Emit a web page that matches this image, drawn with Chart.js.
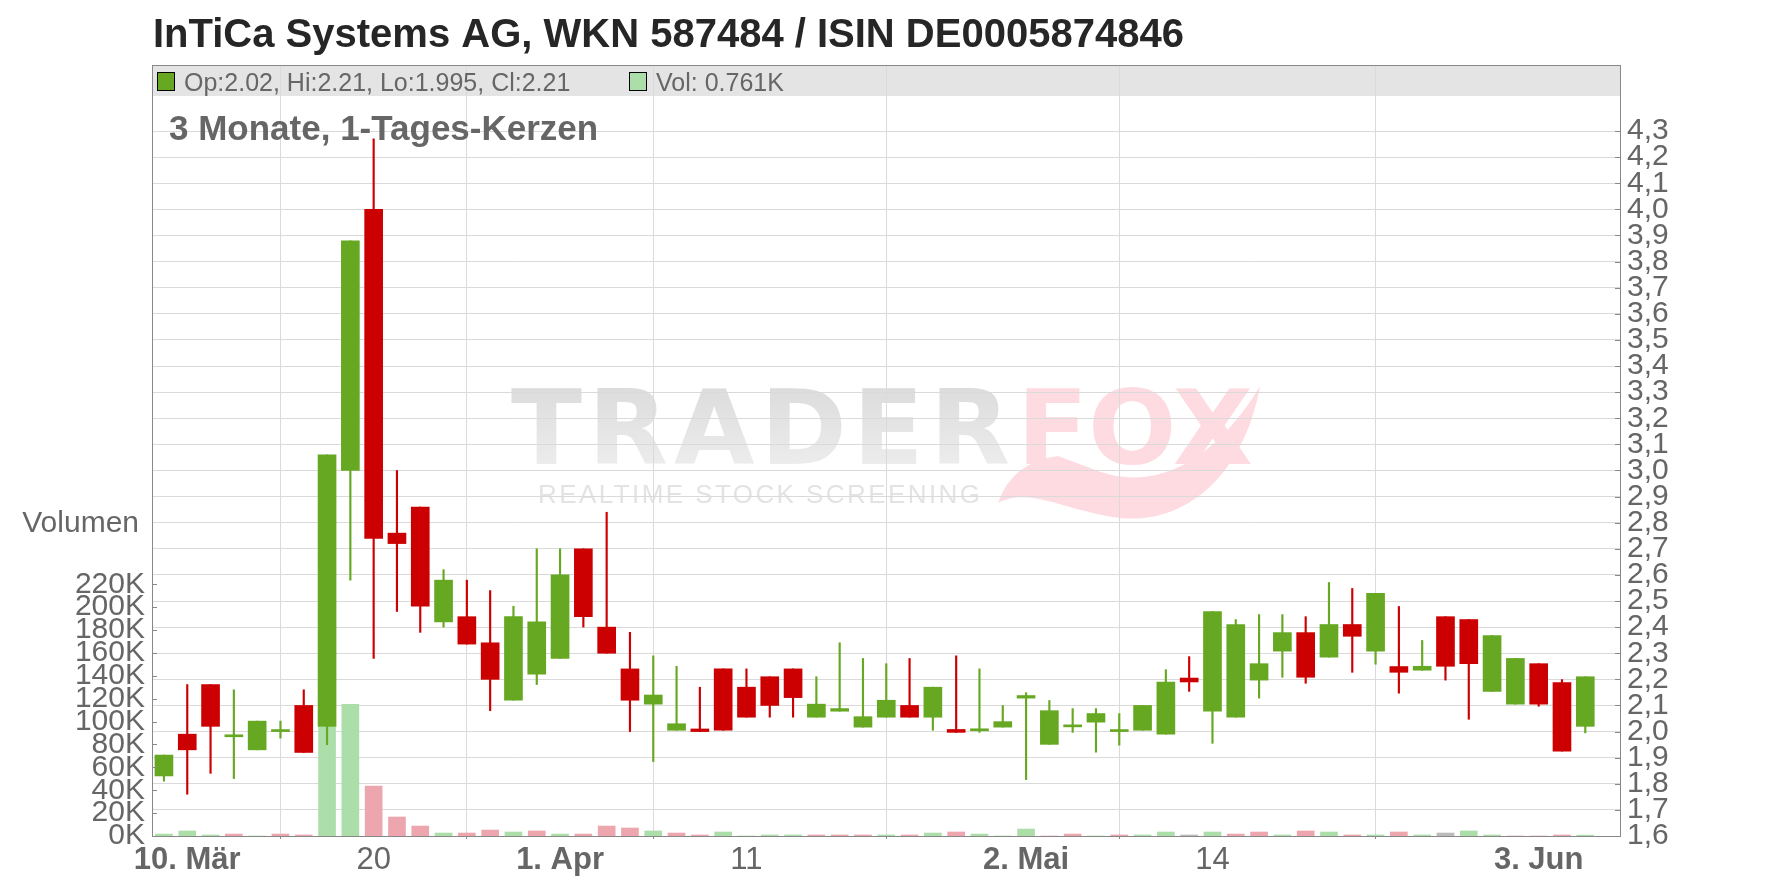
<!DOCTYPE html>
<html lang="de">
<head>
<meta charset="utf-8">
<title>InTiCa Systems AG - 3 Monate</title>
<script src="https://cdn.jsdelivr.net/npm/chart.js@4.4.1/dist/chart.umd.min.js"></script>
<style>
  html, body { margin: 0; padding: 0; background: #fff; }
  #wrap { width: 1776px; height: 888px; }
</style>
</head>
<body>
<div id="wrap"><canvas id="kurs" width="1776" height="888"></canvas></div>
<script>
// Handelstage 7. Maerz bis 5. Juni, 1-Tages-Kerzen
const days = [
  '07.03.', '10.03.', '11.03.', '12.03.', '13.03.', '14.03.', '17.03.', '18.03.', '19.03.', '20.03.',
  '21.03.', '24.03.', '25.03.', '26.03.', '27.03.', '28.03.', '31.03.', '01.04.', '02.04.', '03.04.',
  '04.04.', '07.04.', '08.04.', '09.04.', '10.04.', '11.04.', '14.04.', '15.04.', '16.04.', '17.04.',
  '22.04.', '23.04.', '24.04.', '25.04.', '28.04.', '29.04.', '30.04.', '02.05.', '05.05.', '06.05.',
  '07.05.', '08.05.', '09.05.', '12.05.', '13.05.', '14.05.', '15.05.', '16.05.', '19.05.', '20.05.',
  '21.05.', '22.05.', '23.05.', '26.05.', '27.05.', '28.05.', '29.05.', '30.05.', '02.06.', '03.06.',
  '04.06.', '05.06.'
];
const opens = [
  1.83, 1.99, 2.18, 1.98, 1.93, 2.00, 2.10, 2.02, 3.00, 4.00,
  2.76, 2.86, 2.42, 2.44, 2.34, 2.12, 2.22, 2.28, 2.70, 2.40,
  2.24, 2.105, 2.005, 2.01, 2.24, 2.17, 2.21, 2.24, 2.055, 2.078,
  2.017, 2.055, 2.10, 2.055, 2.008, 2.003, 2.017, 2.128, 1.951, 2.018,
  2.036, 2.00, 2.005, 1.99, 2.205, 2.078, 2.055, 2.197, 2.308, 2.379,
  2.285, 2.41, 2.308, 2.249, 2.235, 2.44, 2.429, 2.154, 2.105, 2.26,
  2.188, 2.02
];
const highs = [
  1.91, 2.18, 2.18, 2.16, 2.04, 2.04, 2.16, 3.06, 3.88, 4.27,
  3.00, 2.86, 2.62, 2.58, 2.54, 2.48, 2.70, 2.70, 2.70, 2.84,
  2.38, 2.29, 2.25, 2.17, 2.24, 2.24, 2.21, 2.24, 2.21, 2.34,
  2.28, 2.26, 2.28, 2.17, 2.29, 2.24, 2.10, 2.149, 2.119, 2.088,
  2.088, 2.069, 2.10, 2.237, 2.287, 2.46, 2.429, 2.448, 2.448, 2.44,
  2.571, 2.548, 2.529, 2.479, 2.349, 2.44, 2.429, 2.368, 2.28, 2.26,
  2.199, 2.21
];
const lows = [
  1.81, 1.76, 1.84, 1.82, 1.93, 1.975, 1.92, 1.95, 2.58, 2.28,
  2.46, 2.38, 2.40, 2.335, 2.08, 2.12, 2.18, 2.28, 2.40, 2.30,
  2.00, 1.885, 2.005, 2.00, 2.005, 2.055, 2.055, 2.055, 2.055, 2.078,
  2.017, 2.055, 2.055, 2.005, 1.997, 1.997, 2.017, 1.816, 1.951, 1.997,
  1.921, 1.948, 2.005, 1.99, 2.154, 1.955, 2.055, 2.128, 2.208, 2.185,
  2.285, 2.227, 2.258, 2.147, 2.235, 2.197, 2.047, 2.154, 2.105, 2.097,
  1.925, 1.995
];
const closes = [
  1.91, 1.93, 2.02, 1.98, 2.04, 2.00, 1.92, 3.06, 3.88, 2.74,
  2.72, 2.48, 2.58, 2.335, 2.20, 2.44, 2.42, 2.60, 2.44, 2.30,
  2.12, 2.14, 2.03, 2.00, 2.005, 2.055, 2.10, 2.13, 2.105, 2.088,
  2.057, 2.12, 2.055, 2.17, 1.997, 2.007, 2.038, 2.138, 2.080, 2.018,
  2.069, 2.00, 2.10, 2.19, 2.19, 2.46, 2.41, 2.26, 2.379, 2.208,
  2.41, 2.365, 2.529, 2.227, 2.25, 2.25, 2.26, 2.368, 2.28, 2.105,
  1.925, 2.21
];
// Volumen in Tausend Stueck
const vols = [
  1.7, 4.4, 0.9, 1.7, 0, 1.7, 0.9, 95.4, 115, 43.6,
  16.6, 8.7, 2.6, 2.6, 5.2, 3.5, 4.4, 1.7, 1.7, 8.7,
  7.0, 4.4, 2.6, 0.9, 3.5, 0, 0.9, 0.9, 0.9, 0.9,
  0.9, 0.9, 0.9, 2.6, 3.5, 1.7, 0, 6.1, 0, 1.7,
  0, 0.9, 0.9, 3.5, 0.9, 3.5, 1.7, 3.5, 0.9, 4.4,
  3.5, 0.9, 0.9, 3.5, 0.9, 2.6, 4.4, 0.9, 0, 0,
  0.9, 0.761
];

const xTickIdx = [1, 9, 17, 25, 37, 45, 59];
const xTickLabels = ['10. Mär', '20', '1. Apr', '11', '2. Mai', '14', '3. Jun'];
const priceTicks = [1.6, 1.7, 1.8, 1.9, 2.0, 2.1, 2.2, 2.3, 2.4, 2.5, 2.6, 2.7, 2.8, 2.9,
  3.0, 3.1, 3.2, 3.3, 3.4, 3.5, 3.6, 3.7, 3.8, 3.9, 4.0, 4.1, 4.2, 4.3];
const volTicks = [0, 20, 40, 60, 80, 100, 120, 140, 160, 180, 200, 220];

const GREEN = '#66a822';
const RED = '#cc0000';
const VOL_UP = '#acdeaa';
const VOL_DOWN = '#eea6ae';
const VOL_FLAT = '#bbbbbb';
const GRID = '#dadada';
const AXIS = '#888888';
const TXT = '#666666';
const FONT = '"Liberation Sans", Arial, sans-serif';
const LOGO_FONT = '"DejaVu Sans", sans-serif';

function candleColor(i) {
    return closes[i] >= opens[i] ? GREEN : RED;
}

function volColor(i) {
    if (i === 0 || closes[i] > closes[i - 1]) return VOL_UP;
    if (closes[i] < closes[i - 1]) return VOL_DOWN;
    return VOL_FLAT;
}

function xLabel(v) {
    const k = xTickIdx.indexOf(v);
    return k < 0 ? '' : xTickLabels[k];
}

// Text mit gleichmaessigem Buchstabenabstand zwischen x0 und x1
function spreadText(ctx, text, x0, x1, y) {
    ctx.letterSpacing = '0px';
    const w = ctx.measureText(text).width;
    const sp = (x1 - x0 - w) / (text.length - 1);
    ctx.letterSpacing = sp + 'px';
    ctx.fillText(text, x0, y);
    ctx.letterSpacing = '0px';
}

// Hintergrund: Kopfband und Wasserzeichen
const backdrop = {
    id: 'backdrop',
    beforeDraw(chart) {
        const ctx = chart.ctx;
        const a = chart.chartArea;
        ctx.save();
        ctx.fillStyle = '#e4e4e4';
        ctx.fillRect(a.left, a.top, a.right - a.left, 96 - a.top);

        ctx.textBaseline = 'alphabetic';
        ctx.font = 'bold 104px ' + LOGO_FONT;
        const g = ctx.createLinearGradient(0, 388, 0, 464);
        g.addColorStop(0, '#dcdcdc');
        g.addColorStop(1, '#ececec');
        ctx.fillStyle = g;
        spreadText(ctx, 'TRADER', 511, 1010, 464);
        ctx.fillStyle = '#fddbe0';
        spreadText(ctx, 'FOX', 1017, 1253, 464);

        ctx.font = '26px ' + FONT;
        ctx.fillStyle = '#e3e3e3';
        spreadText(ctx, 'REALTIME STOCK SCREENING', 538, 980, 503);

        // Fuchsschwanz
        ctx.fillStyle = '#fddbe0';
        ctx.beginPath();
        ctx.moveTo(998, 503);
        ctx.quadraticCurveTo(1012, 462, 1058, 456);
        ctx.lineTo(1090, 468);
        ctx.bezierCurveTo(1165, 500, 1225, 445, 1260, 386);
        ctx.bezierCurveTo(1245, 470, 1190, 525, 1120, 518);
        ctx.bezierCurveTo(1068, 512, 1030, 486, 998, 503);
        ctx.closePath();
        ctx.fill();
        ctx.restore();
    }
};

// Rahmen, innere Teilstriche und Beschriftungen
const overlay = {
    id: 'overlay',
    afterDraw(chart) {
        const ctx = chart.ctx;
        const a = chart.chartArea;
        const yP = chart.scales.y;
        const yV = chart.scales.vol;
        ctx.save();
        ctx.strokeStyle = AXIS;
        ctx.lineWidth = 1;
        ctx.strokeRect(a.left - 0.5, a.top + 0.5, a.right - a.left + 1, a.bottom - a.top);

        ctx.beginPath();
        yP.ticks.forEach(t => {
            const py = Math.round(yP.getPixelForValue(t.value)) + 0.5;
            ctx.moveTo(a.right - 5, py);
            ctx.lineTo(a.right, py);
        });
        yV.ticks.forEach(t => {
            const py = Math.round(yV.getPixelForValue(t.value)) + 0.5;
            ctx.moveTo(a.left, py);
            ctx.lineTo(a.left + 4, py);
        });
        ctx.stroke();

        // Titel
        ctx.fillStyle = '#262626';
        ctx.font = 'bold 40px ' + FONT;
        ctx.textAlign = 'left';
        ctx.textBaseline = 'alphabetic';
        ctx.fillText('InTiCa Systems AG, WKN 587484 / ISIN DE0005874846', 153, 47);

        // Legende im Kopfband
        const last = days.length - 1;
        ctx.lineWidth = 1;
        ctx.strokeStyle = '#000';
        ctx.fillStyle = GREEN;
        ctx.fillRect(157.5, 72.5, 17, 18);
        ctx.strokeRect(157.5, 72.5, 17, 18);
        ctx.fillStyle = VOL_UP;
        ctx.fillRect(629.5, 72.5, 17, 18);
        ctx.strokeRect(629.5, 72.5, 17, 18);
        ctx.fillStyle = TXT;
        ctx.font = '25px ' + FONT;
        ctx.fillText('Op:' + opens[last] + ', Hi:' + highs[last] + ', Lo:' + lows[last] + ', Cl:' + closes[last], 184, 91);
        ctx.fillText('Vol: ' + vols[last] + 'K', 656, 91);

        ctx.font = 'bold 35px ' + FONT;
        ctx.fillText('3 Monate, 1-Tages-Kerzen', 169, 140);

        ctx.font = '30px ' + FONT;
        ctx.textAlign = 'right';
        ctx.fillText('Volumen', 139, 532);
        ctx.restore();
    }
};

const idx = days.map((d, i) => i);

new Chart(document.getElementById('kurs'), {
    type: 'bar',
    data: {
        datasets: [{
            label: 'Volumen',
            yAxisID: 'vol',
            data: idx.map(i => ({ x: i, y: vols[i] })),
            backgroundColor: ctx => volColor(ctx.dataIndex),
            barThickness: 17,
            grouped: false,
            order: 3
        }, {
            label: 'Docht',
            yAxisID: 'y',
            data: idx.map(i => ({ x: i, y: [lows[i], highs[i]] })),
            backgroundColor: ctx => candleColor(ctx.dataIndex),
            barThickness: 1.5,
            grouped: false,
            order: 2
        }, {
            label: 'Kerze',
            yAxisID: 'y',
            data: idx.map(i => ({ x: i, y: [opens[i], closes[i]] })),
            backgroundColor: ctx => candleColor(ctx.dataIndex),
            barThickness: 18,
            minBarLength: 2,
            grouped: false,
            order: 1
        }]
    },
    options: {
        responsive: false,
        animation: false,
        layout: { padding: { top: 65, left: 0, right: 0, bottom: 0 } },
        plugins: {
            legend: { display: false },
            tooltip: { enabled: false },
            title: { display: false }
        },
        scales: {
            x: {
                type: 'linear',
                min: -0.47,
                max: 62.49,
                offset: false,
                afterBuildTicks: s => { s.ticks = xTickIdx.map(v => ({ value: v })); },
                afterFit: s => { s.height = 52; },
                grid: { color: GRID, tickColor: AXIS, tickLength: 3 },
                border: { display: false },
                ticks: {
                    autoSkip: false,
                    maxRotation: 0,
                    padding: 3,
                    color: TXT,
                    font: c => ({
                        family: FONT,
                        size: 31,
                        weight: (c.tick && xLabel(c.tick.value).includes('.')) ? 'bold' : 'normal'
                    }),
                    callback: v => xLabel(v)
                }
            },
            y: {
                type: 'linear',
                position: 'right',
                min: 1.6,
                max: 4.553,
                afterBuildTicks: s => { s.ticks = priceTicks.map(v => ({ value: v })); },
                afterFit: s => { s.width = 156; },
                grid: { color: GRID, drawTicks: false },
                border: { display: false },
                ticks: {
                    autoSkip: false,
                    padding: 7,
                    color: TXT,
                    font: { family: FONT, size: 30 },
                    callback: v => v.toFixed(1).replace('.', ',')
                }
            },
            vol: {
                type: 'linear',
                position: 'left',
                min: 0,
                max: 673.9,
                afterBuildTicks: s => { s.ticks = volTicks.map(v => ({ value: v })); },
                afterFit: s => { s.width = 153; },
                grid: { display: false, drawTicks: false },
                border: { display: false },
                ticks: {
                    autoSkip: false,
                    padding: 8,
                    color: TXT,
                    font: { family: FONT, size: 30 },
                    callback: v => v + 'K'
                }
            }
        }
    },
    plugins: [backdrop, overlay]
});
</script>
</body>
</html>
